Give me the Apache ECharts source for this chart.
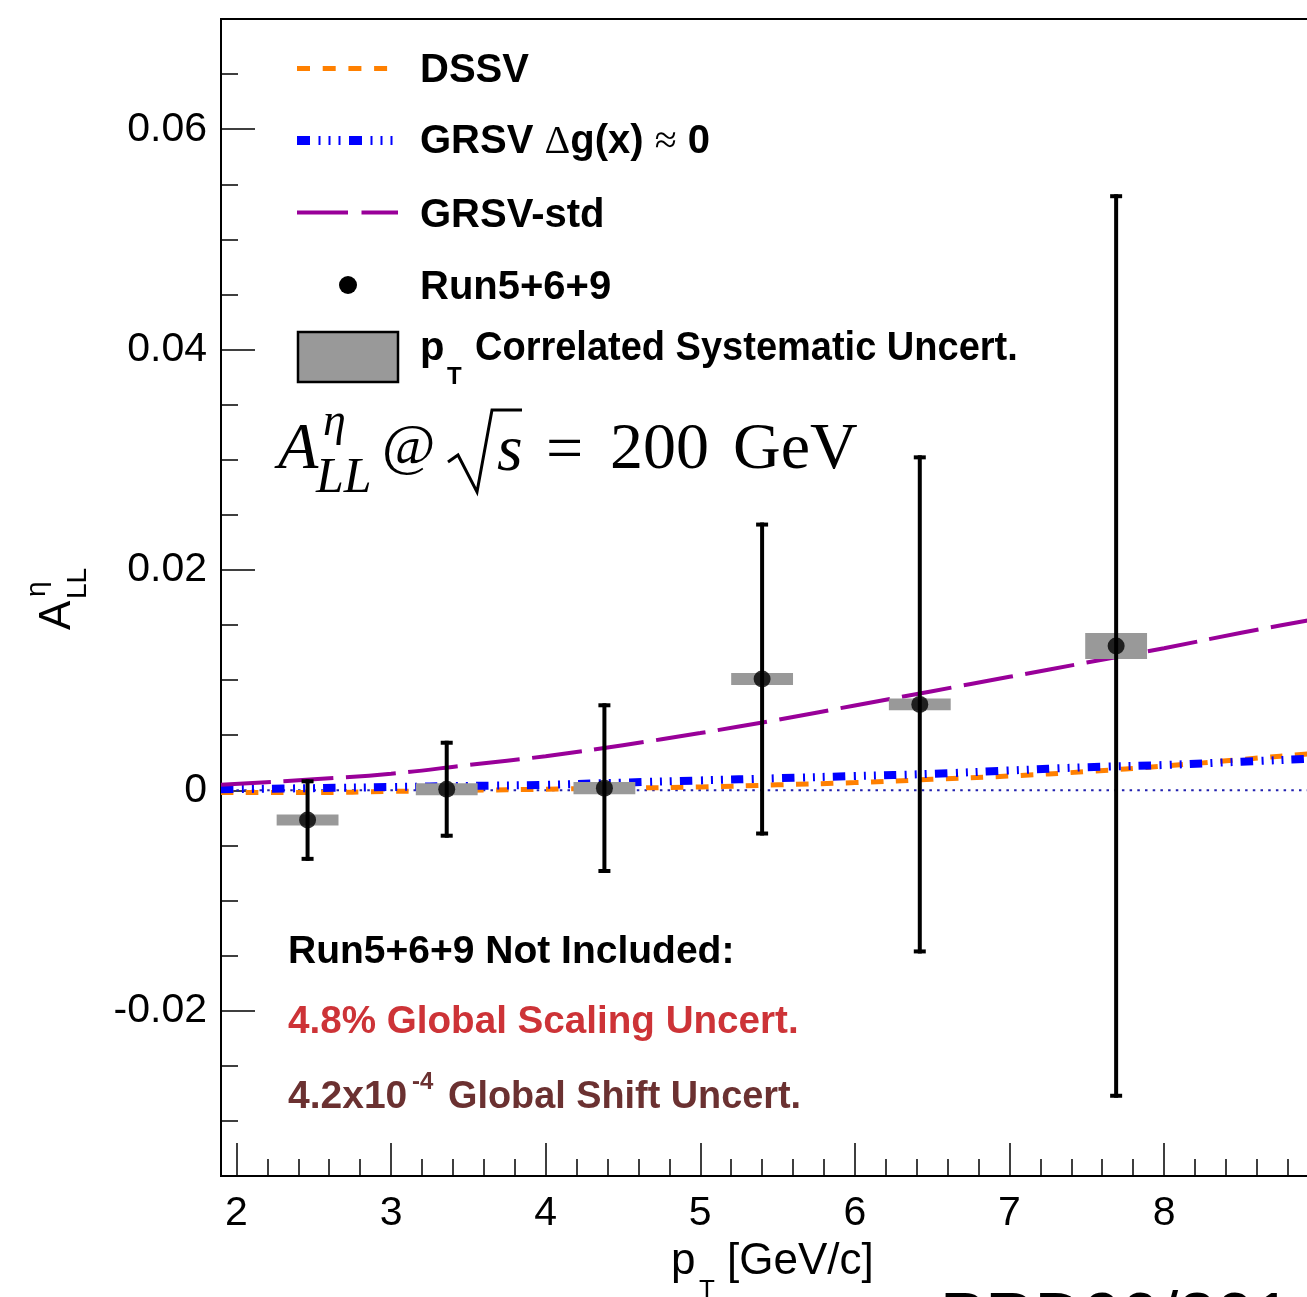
<!DOCTYPE html>
<html>
<head>
<meta charset="utf-8">
<title>A_LL eta</title>
<script src="https://cdn.jsdelivr.net/npm/echarts@6/dist/echarts.min.js"></script>
<style>
html,body{margin:0;padding:0;background:#fff;overflow:hidden}
#chart{width:1420px;height:1297px}
</style>
</head>
<body>
<div id="chart"></div>
<script>

// axis ranges and ticks
const xMin = 1.9, xMax = 9.5
const yMin = -0.035, yMax = 0.07
const xMajor = [2,3,4,5,6,7,8,9]
const xMinor = [2.2,2.4,2.6,2.8,3.2,3.4,3.6,3.8,4.2,4.4,4.6,4.8,5.2,5.4,5.6,5.8,6.2,6.4,6.6,6.8,7.2,7.4,7.6,7.8,8.2,8.4,8.6,8.8,9.2,9.4]
const yMajor = [-0.02,0,0.02,0.04,0.06]
const yMinor = [-0.03,-0.025,-0.015,-0.01,-0.005,0.005,0.01,0.015,0.025,0.03,0.035,0.045,0.05,0.055,0.065]

// data points (Run5+6+9)
const ptX    = [2.46, 3.36, 4.38, 5.40, 6.42, 7.69]
const asym   = [-0.0027, 0.0001, 0.0002, 0.0101, 0.0078, 0.0131]
const statErr= [0.0037, 0.0044, 0.0077, 0.0142, 0.0226, 0.0410]
const sysErr = [0.0005, 0.00055, 0.00055, 0.00055, 0.00053, 0.00118]
const sysHalfWidth = 0.2

// theory curves
const curveX   = [1.9, 2.5, 3.0, 3.5, 4.0, 4.5, 5.0, 5.5, 6.0, 6.5, 7.0, 7.5, 8.0, 8.5, 9.0, 9.5]
const dssv     = [-0.0002,-0.0002,-0.0001,0.0000,0.0001,0.0002,0.0003,0.0005,0.0007,0.0010,0.0013,0.0017,0.0022,0.0028,0.0034,0.0041]
const grsvZero = [0.0001,0.0002,0.0003,0.0004,0.0005,0.0007,0.0009,0.0011,0.0013,0.0015,0.0018,0.0021,0.0023,0.0026,0.0029,0.0032]
const grsvStd  = [0.0005,0.0010,0.0015,0.0023,0.0031,0.0041,0.0052,0.0064,0.0077,0.0090,0.0103,0.0116,0.0129,0.0143,0.0156,0.0169]

const SANS = "'Liberation Sans', Arial, Helvetica, sans-serif"
const SERIF = "'Liberation Serif', 'Times New Roman', serif"

const pts = ptX.map((x,i) => [x, asym[i], statErr[i], sysErr[i]])
const pair = arr => curveX.map((x,i) => [x, arr[i]])

function xAxisDef(ticks, len, labels){
return {
type:"value", min:xMin, max:xMax, position:"bottom",
axisLine:{show:false, onZero:false}, splitLine:{show:false},
axisTick:{show:true, inside:true, length:len, customValues:ticks, lineStyle:{color:"#000",width:1.5}},
axisLabel:labels ? {show:true, customValues:ticks, margin:17, fontSize:41, color:"#000", fontFamily:SANS} : {show:false}
}
}

function yAxisDef(ticks, len, labels){
return {
type:"value", min:yMin, max:yMax, position:"left",
axisLine:{show:false, onZero:false}, splitLine:{show:false},
axisTick:{show:true, inside:true, length:len, customValues:ticks, lineStyle:{color:"#000",width:1.5}},
axisLabel:labels ? {show:true, customValues:ticks, margin:14, fontSize:41, color:"#000", fontFamily:SANS} : {show:false}
}
}

function renderSys(params, api){
const x = api.value(0), y = api.value(1), s = api.value(3)
const a = api.coord([x - sysHalfWidth, y + s])
const b = api.coord([x + sysHalfWidth, y - s])
return {type:"rect", shape:{x:a[0], y:a[1], width:b[0]-a[0], height:b[1]-a[1]}, style:{fill:"#999999"}}
}

function renderErr(params, api){
const x = api.value(0), y = api.value(1), e = api.value(2)
const t = api.coord([x, y + e])
const b = api.coord([x, y - e])
const st = {stroke:"#000", lineWidth:4}
return {type:"group", children:[
{type:"line", shape:{x1:t[0], y1:t[1], x2:b[0], y2:b[1]}, style:st},
{type:"line", shape:{x1:t[0]-6, y1:t[1]+2, x2:t[0]+6, y2:t[1]+2}, style:st},
{type:"line", shape:{x1:b[0]-6, y1:b[1]-2, x2:b[0]+6, y2:b[1]-2}, style:st}
]}
}

function txt(x, y, text, size, opt){
opt = opt || {}
return {
type:"text", x:x, y:y, z:50, scaleX:opt.sx || 1,
style:{
text:text, fontSize:size, fontFamily:opt.family || SANS,
fontWeight:opt.weight || "normal", fontStyle:opt.style || "normal",
fill:opt.color || "#000", textAlign:opt.align || "left", textVerticalAlign:"middle"
}
}
}

const B = {weight:"bold"}

const chart = echarts.init(document.getElementById("chart"), null, {renderer:"canvas"})

chart.setOption({
animation:false,
backgroundColor:"#fff",
grid:{left:221, top:19, width:(xMax - xMin) * 154.6, height:1157, show:true, borderColor:"#000", borderWidth:2, backgroundColor:"transparent"},
xAxis:[ xAxisDef(xMajor, 33, true), xAxisDef(xMinor, 17, false) ],
yAxis:[ yAxisDef(yMajor, 34, true), yAxisDef(yMinor, 17, false) ],
series:[
{
name:"zero", type:"line", data:[[xMin,0],[xMax,0]], symbol:"none", z:1,
lineStyle:{color:"#2020b0", width:2, type:[2.5,5.2]}
},
{
name:"DSSV", type:"line", data:pair(dssv), smooth:0.4, symbol:"none", z:2,
lineStyle:{color:"#ff8000", width:5, type:[12.5,12.5], cap:"butt"}
},
{
name:"GRSV dg=0", type:"line", data:pair(grsvZero), smooth:0.4, symbol:"none", z:2,
lineStyle:{color:"#0000ff", width:8, type:[12.5,8.5,2,8,2,8,2,8], cap:"butt"}
},
{
name:"GRSV-std", type:"line", data:pair(grsvStd), smooth:0.4, symbol:"none", z:2,
lineStyle:{color:"#990099", width:4, type:[50,12.5], cap:"butt"}
},
{
name:"sys", type:"custom", data:pts, encode:{x:0, y:1}, renderItem:renderSys, z:3
},
{
name:"stat", type:"custom", data:pts, encode:{x:0, y:1}, renderItem:renderErr, z:4
},
{
name:"Run5+6+9", type:"scatter", data:pts.map(p => [p[0], p[1]]), symbol:"circle", symbolSize:17, z:5,
itemStyle:{color:"#000"}
}
],
graphic:{elements:[
// legend samples
{type:"line", shape:{x1:297, y1:68.5, x2:390, y2:68.5}, style:{stroke:"#ff8000", lineWidth:5, lineDash:[13,12.7], lineCap:"butt"}},
{type:"line", shape:{x1:297, y1:140.5, x2:393, y2:140.5}, style:{stroke:"#0000ff", lineWidth:9, lineDash:[13,8.5,2,8,2,8,2,8.5], lineCap:"butt"}},
{type:"line", shape:{x1:297, y1:212.5, x2:398, y2:212.5}, style:{stroke:"#990099", lineWidth:4, lineDash:[51,13.5], lineCap:"butt"}},
{type:"circle", shape:{cx:348, cy:285, r:9}, style:{fill:"#000"}},
{type:"rect", shape:{x:298, y:332, width:100, height:50}, style:{fill:"#999999", stroke:"#000", lineWidth:2.5}},
// legend texts
txt(420, 71, "DSSV", 40, B),
{
type:"text", x:420, y:142, z:50,
style:{
text:"{b|GRSV }{s|Δ}{b|g(x) }{s|≈}{b| 0}",
textVerticalAlign:"middle",
rich:{
b:{fontSize:40, fontWeight:"bold", fontFamily:SANS, fill:"#000"},
s:{fontSize:40, fontFamily:SERIF, fill:"#000"}
}
}
},
txt(420, 216, "GRSV-std", 40, B),
txt(420, 288, "Run5+6+9", 40, B),
txt(420, 349, "p", 40, B),
txt(447, 377, "T", 24, B),
txt(475, 349, "Correlated Systematic Uncert.", 40, {weight:"bold", sx:0.95}),
// formula
txt(278, 451, "A", 66, {family:SERIF, style:"italic"}),
txt(323, 423, "η", 46, {family:SERIF, style:"italic"}),
txt(316, 479, "LL", 50, {family:SERIF, style:"italic"}),
txt(382, 449, "@", 58, {family:SERIF}),
{type:"polyline", shape:{points:[[448,462],[458,455],[477,492],[492,410],[522,410]]}, style:{stroke:"#000", lineWidth:3, fill:null}},
txt(497, 453, "s", 66, {family:SERIF, style:"italic"}),
txt(546, 453, "=", 66, {family:SERIF}),
txt(610, 451, "200", 66, {family:SERIF}),
txt(733, 451, "GeV", 66, {family:SERIF}),
// notes
txt(288, 952, "Run5+6+9 Not Included:", 39, B),
txt(288, 1022, "4.8% Global Scaling Uncert.", 39, {weight:"bold", color:"#cd3337", sx:0.99}),
txt(288, 1097, "4.2x10", 39, {weight:"bold", color:"#6b3131"}),
txt(412, 1082, "-4", 24, {weight:"bold", color:"#6b3131"}),
txt(448, 1097, "Global Shift Uncert.", 39, {weight:"bold", color:"#6b3131", sx:0.97}),
// axis titles
txt(671, 1262, "p", 44),
txt(699, 1291, "T", 26),
txt(727, 1262, "[GeV/c]", 44),
{
type:"group", x:58, y:630, rotation:Math.PI/2, z:50,
children:[
{type:"text", x:0, y:0, style:{text:"A", fontSize:44, fontFamily:SANS, fill:"#000", textVerticalAlign:"middle"}},
{type:"text", x:33, y:-21, style:{text:"η", fontSize:28, fontFamily:SANS, fill:"#000", textVerticalAlign:"middle"}},
{type:"text", x:31, y:20, style:{text:"LL", fontSize:28, fontFamily:SANS, fill:"#000", textVerticalAlign:"middle"}}
]
},
// reference note, cut by the page edge
txt(940, 1321, "PRD90/2014", 68)
]}
})

</script>
</body>
</html>
